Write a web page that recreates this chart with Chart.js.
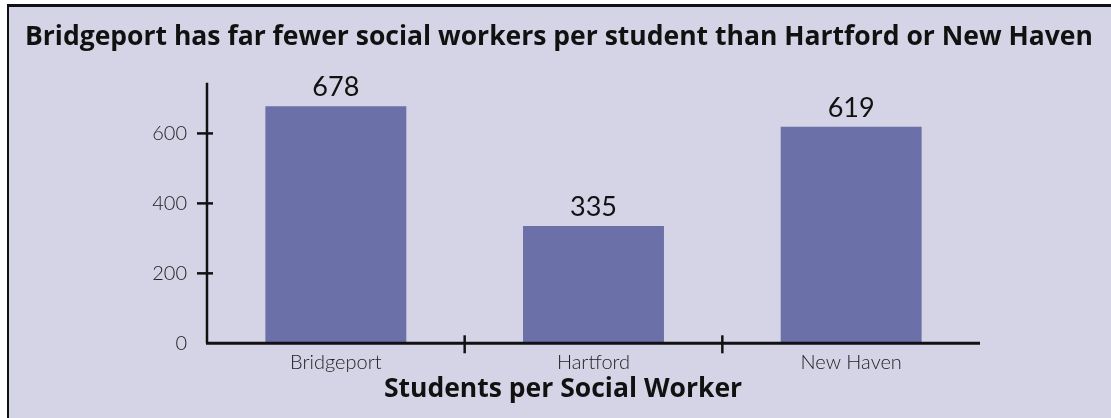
<!DOCTYPE html>
<html>
<head>
<meta charset="utf-8">
<script src="https://cdn.jsdelivr.net/npm/chart.js@4"></script>
<style>
  html, body { margin: 0; background: #fff; overflow: hidden; width: 1111px; height: 418px; }
  #frame {
    position: absolute; left: 7px; top: 4px; width: 1102px; height: 411px;
    border-left: 2px solid #111; border-top: 3px solid #111;
    background: #d5d4e6;
  }
  #chart_students { position: absolute; left: 0; top: 0; }
</style>
</head>
<body>
<div id="frame"></div>
<canvas id="chart_students" width="1111" height="418"></canvas>
<script>
var cities = ['Bridgeport', 'Hartford', 'New Haven'];
var students_per_worker = [678, 335, 619];
var y_ticks = [0, 200, 400, 600];
var y_max = 745;

var bar_color = '#6b70a8';
var ink = '#111';
var font_family = 'Lato, "Open Sans", sans-serif';
var bold_family = '"Open Sans", Lato, sans-serif';

// axis lines, crossing tick marks and value labels, drawn over the bars
var axisMarks = {
  id: 'axisMarks',
  afterDatasetsDraw: function (chart) {
    var ctx = chart.ctx;
    var area = chart.chartArea;
    var xs = chart.scales.x;
    var ys = chart.scales.y;

    ctx.save();
    ctx.strokeStyle = ink;
    ctx.lineCap = 'butt';

    ctx.lineWidth = 2.5;
    ctx.beginPath();
    ctx.moveTo(area.left, area.top);
    ctx.lineTo(area.left, area.bottom);
    ctx.stroke();

    ctx.lineWidth = 3;
    ctx.beginPath();
    ctx.moveTo(area.left - 1, area.bottom);
    ctx.lineTo(area.right, area.bottom);
    ctx.stroke();

    ctx.lineWidth = 2.5;
    y_ticks.forEach(function (v) {
      if (v === 0) return;
      var py = ys.getPixelForValue(v);
      ctx.beginPath();
      ctx.moveTo(area.left - 10, py);
      ctx.lineTo(area.left + 6, py);
      ctx.stroke();
    });

    for (var i = 1; i < cities.length; i++) {
      var px = (xs.getPixelForTick(i - 1) + xs.getPixelForTick(i)) / 2;
      ctx.beginPath();
      ctx.moveTo(px, area.bottom - 8);
      ctx.lineTo(px, area.bottom + 10);
      ctx.stroke();
    }

    ctx.fillStyle = ink;
    ctx.font = '400 27px ' + font_family;
    ctx.textAlign = 'center';
    ctx.textBaseline = 'alphabetic';
    chart.getDatasetMeta(0).data.forEach(function (bar, i) {
      ctx.fillText(String(students_per_worker[i]), bar.x, bar.y - 10);
    });
    ctx.restore();
  }
};

var chart = new Chart(document.getElementById('chart_students').getContext('2d'), {
  type: 'bar',
  data: {
    labels: cities,
    datasets: [{
      label: 'Students per Social Worker',
      data: students_per_worker,
      backgroundColor: bar_color,
      borderWidth: 0,
      categoryPercentage: 1,
      barPercentage: 0.547
    }]
  },
  options: {
    responsive: false,
    animation: false,
    events: [],
    layout: { padding: { left: 25, right: 10, top: 22, bottom: 12.9 } },
    plugins: {
      legend: { display: false },
      tooltip: { enabled: false },
      title: {
        display: true,
        text: 'Bridgeport has far fewer social workers per student than Hartford or New Haven',
        align: 'start',
        color: ink,
        font: { family: bold_family, size: 26.5, weight: 'bold', lineHeight: 1.2 },
        padding: { top: 0, bottom: 28.9 }
      },
      subtitle: {
        display: true,
        position: 'bottom',
        text: 'Students per Social Worker',
        align: 'center',
        color: ink,
        font: { family: bold_family, size: 26.5, weight: 'bold', lineHeight: 1.2 },
        padding: 0
      }
    },
    scales: {
      x: {
        grid: { display: false, drawTicks: false },
        border: { display: false },
        ticks: {
          color: '#222',
          padding: 7,
          font: { family: font_family, size: 20, weight: '300' }
        },
        afterFit: function (scale) { scale.height = 30; }
      },
      y: {
        min: 0,
        max: y_max,
        grid: { display: false, drawTicks: false },
        border: { display: false },
        afterBuildTicks: function (scale) {
          scale.ticks = y_ticks.map(function (v) { return { value: v }; });
        },
        ticks: {
          color: '#222',
          padding: 20,
          font: { family: font_family, size: 20, weight: '300' }
        },
        afterFit: function (scale) { scale.width = 182; }
      },
      right_space: {
        type: 'linear',
        position: 'right',
        display: true,
        grid: { display: false, drawTicks: false },
        border: { display: false },
        ticks: { display: false },
        afterFit: function (scale) { scale.width = 121; }
      }
    }
  },
  plugins: [axisMarks]
});
</script>
</body>
</html>
